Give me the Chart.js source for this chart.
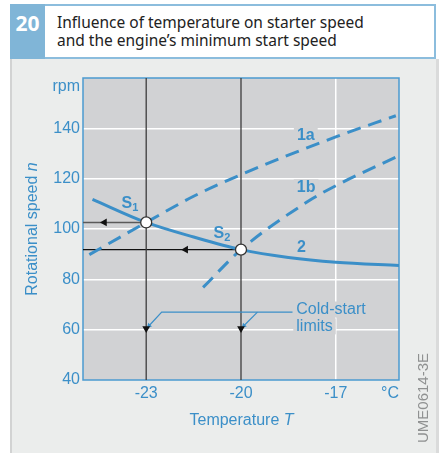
<!DOCTYPE html>
<html>
<head>
<meta charset="utf-8">
<script src="https://cdn.jsdelivr.net/npm/chart.js@4/dist/chart.umd.min.js"></script>
<style>
  body { margin: 0; width: 439px; height: 453px; overflow: hidden; background: #fff; }
  #panel { position: absolute; left: 10px; top: 59px; width: 424px; height: 394px; background: #ebedec;
           border-left: 2px solid #d2d3d3; border-right: 3px solid #dadbdb; }
  #num { position: absolute; left: 10px; top: 4px; width: 35px; height: 46px; padding-top: 9px; background: #80b5d7;
         color: #fff; font: bold 21px "Noto Sans", sans-serif; line-height: 20px; text-align: center; }
  #title { position: absolute; left: 45px; top: 4px; width: 377px; height: 44px; padding: 7px 0 0 12px; background: #fff;
           border: 2px solid #8cbddd; border-left: none; color: #222; font: 15.5px "Noto Sans", sans-serif; line-height: 18px; }
  #wrap { position: absolute; left: 0; top: 0; width: 439px; height: 453px; }
</style>
</head>
<body>
<div id="panel"></div>
<div id="num">20</div>
<div id="title">Influence of temperature on starter speed<br>and the engine’s minimum start speed</div>
<div id="wrap"><canvas id="chart" width="439" height="453"></canvas></div>
<script>
// axis ranges and ticks
const xTicks = [-23, -20, -17];
const xTickLabels = ['-23', '-20', '-17'];
const yTicks = [40, 60, 80, 100, 120, 140];
const yTickLabels = ['40', '60', '80', '100', '120', '140'];

// curve 1a (dashed)
const temps1a = [-24.8, -23, -21.5, -20, -17, -15.1];
const speeds1a = [89.8, 102.6, 113.0, 121.6, 136.6, 145.0];
// curve 1b (dashed)
const temps1b = [-21.2, -20, -17.8, -17, -15];
const speeds1b = [76.8, 91.8, 111.6, 117.2, 129.1];
// curve 2 (solid)
const temps2 = [-24.7, -23, -21.5, -20, -18.5, -17, -15];
const speeds2 = [111.8, 102.6, 96.8, 91.8, 88.7, 86.8, 85.5];

// start points S1, S2 and cold-start limits
const sTemps = [-23, -20];
const sSpeeds = [102.6, 91.8];
const limitArrowSpeed = [60.5, 60.5];
const speedArrowTemps = [-24.32, -21.75];

// leader lines to "Cold-start limits"
const leaderA_T = [-22.91, -22.51, -18.37];
const leaderA_N = [61.55, 67.0, 67.0];
const leaderB_T = [-19.48, -19.91];
const leaderB_N = [67.0, 61.55];

const BLUE = '#3b8fc8';
const FONT = '"Liberation Sans", Arial, sans-serif';

const pts = (xs, ys) => xs.map((x, i) => ({ x: x, y: ys[i] }));

const textPlugin = {
  id: 'texts',
  beforeDraw(chart) {
    const a = chart.chartArea, ctx = chart.ctx;
    ctx.save();
    ctx.fillStyle = '#d1d2d4';
    ctx.fillRect(a.left, a.top, a.right - a.left, a.bottom - a.top);
    ctx.restore();
  },
  beforeDatasetsDraw(chart) {
    const a = chart.chartArea, ctx = chart.ctx;
    const xs = chart.scales.x, ys = chart.scales.y;
    const px = v => xs.getPixelForValue(v), py = v => ys.getPixelForValue(v);
    ctx.save();
    ctx.strokeStyle = '#4b9ad0';
    ctx.lineWidth = 1.5;
    ctx.strokeRect(a.left, a.top, a.right - a.left, a.bottom - a.top);

    // labels with a backdrop in the plot colour
    function label(txt, x, y, font, align) {
      ctx.font = font;
      ctx.textAlign = align || 'center';
      ctx.textBaseline = 'middle';
      const w = ctx.measureText(txt).width;
      const l = align === 'left' ? x : x - w / 2;
      ctx.fillStyle = '#d1d2d4';
      ctx.fillRect(l - 3, y - 8, w + 6, 16);
      ctx.fillStyle = BLUE;
      ctx.fillText(txt, x, y);
    }
    label('1a', px(-17.95), py(137.2), 'bold 16px ' + FONT);
    label('1b', px(-17.94), py(116.6), 'bold 16px ' + FONT);
    label('2', px(-18.09), py(92.7), 'bold 16px ' + FONT);
    label('Cold-start', px(-18.25), py(68.0), '16px ' + FONT, 'left');
    label('limits', px(-18.25), py(61.3), '16px ' + FONT, 'left');

    // S1, S2 with subscripts
    ctx.fillStyle = BLUE;
    ctx.textAlign = 'left';
    ctx.textBaseline = 'alphabetic';
    [['1', -23.78, 108.35], ['2', -20.87, 96.4]].forEach(s => {
      const x = px(s[1]), y = py(s[2]);
      ctx.font = 'bold 16px ' + FONT;
      ctx.fillText('S', x, y);
      const w = ctx.measureText('S').width;
      ctx.font = 'bold 11px ' + FONT;
      ctx.fillText(s[0], x + w, y + 3);
    });

    // units
    ctx.font = '16px ' + FONT;
    ctx.textBaseline = 'middle';
    ctx.textAlign = 'right';
    ctx.fillText('rpm', a.left - 3, a.top + 9);
    ctx.textAlign = 'center';
    ctx.fillText('°C', a.right - 9, a.bottom + 14);

    // axis titles (with italic symbols)
    function mixed(parts, cx, cy, rot) {
      ctx.save();
      ctx.translate(cx, cy);
      ctx.rotate(rot);
      let total = 0;
      parts.forEach(p => { ctx.font = p[1] + '16px ' + FONT; total += ctx.measureText(p[0]).width; });
      let x = -total / 2;
      ctx.textAlign = 'left';
      ctx.textBaseline = 'middle';
      ctx.fillStyle = BLUE;
      parts.forEach(p => { ctx.font = p[1] + '16px ' + FONT; ctx.fillText(p[0], x, 0); x += ctx.measureText(p[0]).width; });
      ctx.restore();
    }
    mixed([['Temperature ', ''], ['T', 'italic ']], 241.5, 421, 0);
    mixed([['Rotational speed ', ''], ['n', 'italic ']], 33, 229, -Math.PI / 2);

    ctx.save();
    ctx.translate(424, 398);
    ctx.rotate(-Math.PI / 2);
    ctx.font = '15px ' + FONT;
    ctx.fillStyle = '#8f9191';
    ctx.textAlign = 'center';
    ctx.textBaseline = 'middle';
    ctx.fillText('UME0614-3E', 0, 0);
    ctx.restore();
    ctx.restore();
  }
};

const ctx = document.getElementById('chart').getContext('2d');
const chart = new Chart(ctx, {
  type: 'line',
  data: {
    datasets: [
      { data: pts(sTemps, sSpeeds), showLine: false, pointRadius: 5.5, pointBackgroundColor: '#fff',
        pointBorderColor: '#333', pointBorderWidth: 1.3 },
      { data: pts(sTemps, limitArrowSpeed), showLine: false, pointStyle: 'triangle', rotation: 180,
        pointRadius: 4.5, pointBackgroundColor: '#111', pointBorderColor: '#111', pointBorderWidth: 0 },
      { data: pts(speedArrowTemps, sSpeeds), showLine: false, pointStyle: 'triangle', rotation: 270,
        pointRadius: 4.5, pointBackgroundColor: '#111', pointBorderColor: '#111', pointBorderWidth: 0 },
      { data: pts(temps2, speeds2), borderColor: BLUE, borderWidth: 3, pointRadius: 0, cubicInterpolationMode: 'monotone' },
      { data: pts(temps1a, speeds1a), borderColor: BLUE, borderWidth: 3, borderDash: [14, 8], pointRadius: 0, cubicInterpolationMode: 'monotone' },
      { data: pts(temps1b, speeds1b), borderColor: BLUE, borderWidth: 3, borderDash: [14, 8], pointRadius: 0, cubicInterpolationMode: 'monotone' },
      { data: pts(leaderA_T, leaderA_N), borderColor: BLUE, borderWidth: 1.2, pointStyle: 'triangle', rotation: 225,
        pointRadius: [3, 0, 0], pointBackgroundColor: BLUE, pointBorderWidth: 0 },
      { data: pts(leaderB_T, leaderB_N), borderColor: BLUE, borderWidth: 1.2, pointStyle: 'triangle', rotation: 225,
        pointRadius: [0, 3], pointBackgroundColor: BLUE, pointBorderWidth: 0 },
      { data: pts([sTemps[0], sTemps[0]], [40, 160]), borderColor: '#3d3d3d', borderWidth: 1.3, pointRadius: 0 },
      { data: pts([sTemps[1], sTemps[1]], [40, 160]), borderColor: '#3d3d3d', borderWidth: 1.3, pointRadius: 0 },
      { data: pts([-25, sTemps[0]], [sSpeeds[0], sSpeeds[0]]), borderColor: '#5a5a5a', borderWidth: 1.5, pointRadius: 0 },
      { data: pts([-25, sTemps[1]], [sSpeeds[1], sSpeeds[1]]), borderColor: '#111', borderWidth: 1.2, pointRadius: 0 }
    ]
  },
  options: {
    responsive: false,
    animation: false,
    layout: { padding: { left: 0, top: 78, right: 40, bottom: 0 } },
    plugins: { legend: { display: false }, tooltip: { enabled: false } },
    elements: { line: { tension: 0 } },
    scales: {
      x: {
        type: 'linear', min: -25, max: -15,
        afterBuildTicks: s => { s.ticks = xTicks.map(v => ({ value: v })); },
        afterFit: s => { s.height = 73; },
        ticks: { callback: v => xTickLabels[xTicks.indexOf(v)], color: BLUE, font: { family: FONT, size: 16 }, padding: 4, maxRotation: 0 },
        grid: { color: c => (c.tick && c.tick.value === -17) ? '#fff' : 'transparent', lineWidth: 1.5, drawTicks: false },
        border: { display: false }
      },
      y: {
        type: 'linear', min: 40, max: 160,
        afterBuildTicks: s => { s.ticks = yTicks.map(v => ({ value: v })); },
        afterFit: s => { s.width = 83; },
        ticks: { callback: v => yTickLabels[yTicks.indexOf(v)], color: BLUE, font: { family: FONT, size: 16 }, padding: 3 },
        grid: { color: c => (c.tick && c.tick.value > 40) ? '#fff' : 'transparent', lineWidth: 1.5, drawTicks: false },
        border: { display: false }
      }
    }
  },
  plugins: [textPlugin]
});
</script>
</body>
</html>
